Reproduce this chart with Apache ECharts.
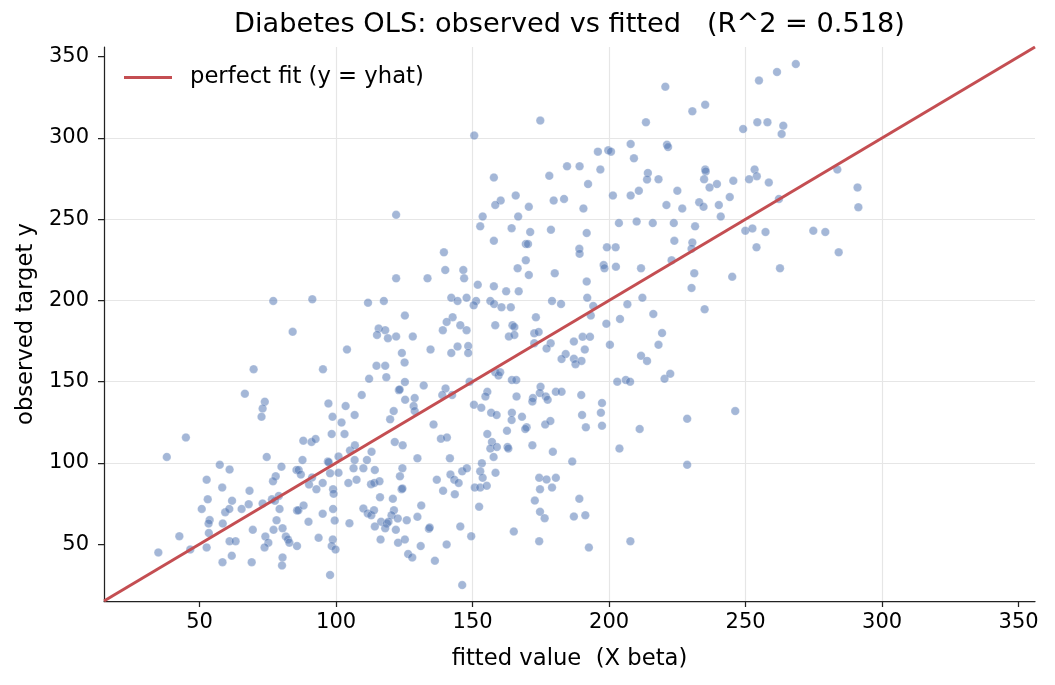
<!DOCTYPE html>
<html>
<head>
<meta charset="utf-8">
<script src="https://cdn.jsdelivr.net/npm/echarts@6/dist/echarts.min.js"></script>
<style>html,body{margin:0;padding:0;background:#fff;}#chart{width:1055px;height:685px;}</style>
</head>
<body>
<div id="chart"></div>
<script>
// ---- data ----
const titleText = 'Diabetes OLS: observed vs fitted   (R^2 = 0.518)';
const xAxisName = 'fitted value  (X beta)';
const yAxisName = 'observed target y';
const legendName = 'perfect fit (y = yhat)';
const axisMin = 15;
const axisMax = 356;
const xTicks = [50, 100, 150, 200, 250, 300, 350];
const yTicks = [50, 100, 150, 200, 250, 300, 350];
const lineEnds = [15, 356];

const fitted = [
174.8,150.6,184.6,157.8,178.1,165.8,160.3,158.3,170.6,179.7,183.5,153.7,166.7,152.8,164.3,171.1,178.7,122,
268.4,261.5,254.9,220.6,230.5,235.2,213.5,249.1,254.3,258,263.8,263.2,207.9,221.2,221.6,195.9,199.7,200.7,209.1,189.2,196.8,192.3,214.2,213.9,218.1,235.2,235.4,234.8,239.5,236.8,245.5,253.3,254.1,251.3,258.5,201.4,207.9,210.9,225,190.6,221,226.8,233,234.6,240.2,244.2,240.9,262.2,203.6,210.1,216,223.7,231.5,191.8,249.9,252.5,257.3,
283.6,291,291.3,274.8,279.2,284.1,
77,91.3,84.1,69.8,95.2,66.6,73.9,73.1,72.7,97.2,98.7,
45,38,88,91,92.5,98.4,74.6,87.7,97,97.3,57.4,61,80,85.5,86.3,87.1,77.9,76.9,97.8,91.2,90.1,95.1,92.8,98.9,99.1,52.6,58.3,68.3,53,61.9,50.8,59.4,60.9,65.4,68,73.1,76.5,79,77.6,79.3,85.7,86.2,88.1,95.1,98.9,99.5,89.9,53.7,53.3,58.5,53.4,69.5,78.2,77.1,80.4,74.1,81.6,82.4,82.9,75.2,73.8,85.7,93.6,98.8,98.4,99.8,42.6,34.9,46.6,52.6,61,63.2,61.8,58.4,69.1,80.4,80.2,97.8,
157.8,169.5,170.3,139.5,140,146.6,146.9,122,133.5,169.5,166.5,170.6,180.1,151.9,157.8,162.3,166.9,111.7,117.5,142.2,144.5,147.8,151.3,150.4,156.5,157.9,160.6,164,179.1,182.4,125.2,142.7,140.5,139.1,145.5,147.8,158.3,164.6,165.3,173.2,163.3,165.3,172.6,174.2,172.6,178.6,177.1,184.1,182.6,115.6,118,115,119,122,128.1,134.6,104,124.1,142.2,144.5,148.4,148.4,125.1,114.8,118,112.1,118.4,125.2,132.1,123,123.3,109.4,125.3,128.8,128.4,128.8,103.5,106.8,121.1,140.1,138.9,142.5,148.9,158.3,159.5,160.1,155.4,154.7,150.5,153.2,164.4,166,166.1,174.9,174.6,172.1,171.9,176.8,177.5,180.5,182.6,156.8,158.8,164.4,168.1,
189.1,189.2,199.2,202.4,223.9,230.5,230.2,254,198,198.3,202.5,211.7,222.9,231.2,245.1,262.6,191.8,230.2,192,212.2,206.7,194.2,193.3,235,216.2,204,199,219.4,218.1,187.1,190.3,193,191.1,200.3,187.1,187.7,189.9,211.7,213.9,203,206.1,207.7,220.3,222.4,189.8,197.4,190.1,197,246.2,
228.6,191.5,197.4,211.2,203.8,186.5,228.6,189.1,187.1,191.3,207.8,192.6,
135.7,119.8,102,103.1,121.5,124.4,138.4,140.6,155.4,164.3,169.8,169.3,176.6,178.5,162.6,157.1,156.5,158.9,162.8,163.1,171.9,179.4,157.7,153.4,152.8,153.7,158.4,150.8,152.8,155.2,152.4,149.5,146.2,174.4,177.1,180.5,174.7,179.1,172.8,174.7,176.4,165.1,174.4,129.8,141.7,124.3,123.4,124,124.3,136.9,139.2,141.9,143.3,144.9,146.2,147.9,143.5,111.3,106.8,106.4,110,114.2,113,105.1,106.9,100.9,100.9,107.5,104.5,112.8,114,115.9,116.1,120.8,131.2,110,111.6,112.9,113.9,121.2,120.3,122.6,129.8,125.9,116.5,118.6,119.2,114.2,118,121.9,104.9,134,134.3,145.5,116.3,122.7,125.2,131,140.5,126.4,127.9,136.2
];

const observed = [
310.7,301.5,282.6,275.7,276.7,264.6,261.5,258.8,257.6,261.5,262.5,251.7,251.7,245.6,244.5,242.1,243.5,252.7,
345.5,340.6,335.4,331.6,316.4,320.5,309.7,305.5,309.7,309.7,307.6,302.5,296.3,295.8,294.4,291.6,292.4,291.6,287.5,282.6,280.6,271.6,278.5,274.4,274.6,280.6,279.4,274.6,271.6,269.5,273.6,280.6,276.5,274.6,272.6,264.6,264.6,267.5,267.5,256.6,258.7,256.6,260.5,257.6,258.7,263.6,251.7,262.5,247.6,248.6,247.6,247.6,245.6,241.5,242.9,244.3,242.1,
280.6,269.5,257.4,242.9,242.1,229.6,
199.7,200.7,180.7,157.7,157.7,142.6,137.7,133.5,128.4,136.6,128.4,
115.7,103.7,113.7,112.9,114.7,117.8,103.7,101.8,100.8,100.4,98.8,95.9,97.7,95.7,95.7,92.8,91.8,88.7,93.6,91,86.7,87.7,83.8,83.8,81,89.7,84.8,82.8,77.6,76.7,71.7,69.7,71.7,71.7,74.6,75,77.6,79.7,76.7,71.7,70.7,70.9,73.8,68.7,71.7,64.6,63.8,64.8,62.7,62.7,56.8,58.8,64.7,58.8,59.8,54.7,54.7,52.9,50.9,50.9,48,48.8,53.9,52.9,48.8,46.7,54.9,44.9,46.7,48,51.8,51.8,42.9,38.9,38.9,41.8,36.9,31,
236.7,234.7,234.7,229.6,218.7,218.7,213.6,213.6,213.6,224.7,219.8,215.7,216.7,209.7,208.7,205.6,205.6,198.6,199.7,201.7,199.7,201.7,199.7,197,199.7,197.8,195.8,195.8,199.7,197.8,190.7,189.7,186.8,181.7,184.8,181.7,184.8,184.8,183.7,189.7,177.8,178.8,179.8,180.6,173.7,173.7,170.4,167,163.9,182.7,181.7,178.8,176.8,177.8,177.8,169.8,169.8,167.7,167.7,171.6,171.9,167.7,161.8,159.8,159.8,151.8,152.8,149.8,147.7,144.8,145.2,141.8,138.9,139.9,135,131.9,135,129.5,131.9,145.8,141.8,141.8,150,155.8,153.8,155.8,143.8,140.9,135.8,134,151,151,140.9,146.9,143,139.9,137.8,140.9,138.9,143.8,143.8,130.9,129.5,130.9,128.4,
231.8,228.7,232.7,232.7,236.7,235.7,231.8,232.7,221.8,219.8,220.8,219.8,224.7,216.7,214.6,219.8,211.6,207.7,201.7,201.7,197.7,196.6,190.7,194.6,191.7,188.6,185.7,179.9,172.7,174.7,177.6,177.6,169.8,172.7,164.1,160.8,162.8,165.9,162.8,150,151,150,151.8,154.9,141.8,136.9,129.5,130.9,131.9,
127.2,121.9,122.9,120.9,108.8,100.8,98.8,77.9,67,67.8,51.8,48,
123.7,126.8,124.8,117.8,112.9,110.8,114.9,115.7,117.8,126.4,121.9,120.9,123.7,125.8,119.8,112.9,108.8,109.8,109.8,108.8,110.8,106.8,103.7,99.8,94.8,90.8,93.9,84.8,84.8,85.9,73,54.9,24.8,90.8,89.8,90.8,83.8,84.8,76.8,69.9,66,57.8,51.8,102.8,102.8,96.7,91.8,83.8,84.2,89.7,82.8,92.8,89.7,87.7,94.8,96.7,80.7,101.8,101.8,96.7,96.7,95.7,106.8,107.7,110.8,103.9,93.9,89.7,87.7,86.9,87.7,88.7,78.9,77.9,73.8,71.9,68.9,67.8,70.9,70.9,67.8,65.8,66.8,64.7,63.8,62.7,63.8,60.9,59.8,58.8,62.9,59.5,60.2,60.9,52.9,50.9,52.9,48.8,49.8,43.9,41.8,39.8
];

// ---- build chart ----
const n = Math.min(fitted.length, observed.length);
const scatterData = [];
for (let i = 0; i < n; i++) scatterData.push([fitted[i], observed[i]]);
const lineData = [[lineEnds[0], lineEnds[0]], [lineEnds[1], lineEnds[1]]];

const FONT = 'DejaVu Sans';
const chart = echarts.init(document.getElementById('chart'), null, {renderer: 'canvas'});

function axisCfg(name, ticks, isX) {
  return {
    type: 'value',
    min: axisMin,
    max: axisMax,
    splitNumber: 7,
    name: name,
    nameLocation: 'middle',
    nameGap: isX ? 47 : 65,
    nameTextStyle: {fontFamily: FONT, fontSize: 22.7, color: '#000'},
    axisLine: {show: true, onZero: false, lineStyle: {color: '#222', width: 1.25}},
    axisTick: {show: true, inside: false, length: 6, customValues: ticks, lineStyle: {color: '#222', width: 1.25}},
    axisLabel: {show: true, customValues: ticks, margin: isX ? 11 : 15, fontFamily: FONT, fontSize: 21, color: '#000',
                showMinLabel: true, showMaxLabel: true},
    splitLine: {show: true, showMinLine: false, showMaxLine: false, lineStyle: {color: '#e6e6e6', width: 1.2}}
  };
}

chart.setOption({
  animation: false,
  backgroundColor: '#fff',
  title: {
    text: titleText,
    left: 569.5,
    textAlign: 'center',
    top: 11,
    padding: 0,
    textStyle: {fontFamily: FONT, fontSize: 27.2, fontWeight: 'normal', color: '#000'}
  },
  legend: {
    data: [legendName],
    left: 124,
    top: 66,
    padding: 0,
    icon: 'rect',
    itemWidth: 48,
    itemHeight: 3,
    textStyle: {fontFamily: FONT, fontSize: 22.7, color: '#000', padding: [0, 0, 0, 13]}
  },
  grid: {left: 104, right: 20, top: 47, bottom: 84, containLabel: false},
  xAxis: axisCfg(xAxisName, xTicks, true),
  yAxis: axisCfg(yAxisName, yTicks, false),
  series: [
    {
      type: 'scatter',
      name: 'observed',
      data: scatterData,
      symbolSize: 8.5,
      itemStyle: {color: 'rgba(76,114,176,0.64)', borderColor: 'rgba(255,255,255,0.6)', borderWidth: 0.5},
      z: 2
    },
    {
      type: 'line',
      name: legendName,
      data: lineData,
      showSymbol: false,
      symbol: 'none',
      lineStyle: {color: '#c44e52', width: 3},
      itemStyle: {color: '#c44e52'},
      z: 3
    }
  ]
});
</script>
</body>
</html>
